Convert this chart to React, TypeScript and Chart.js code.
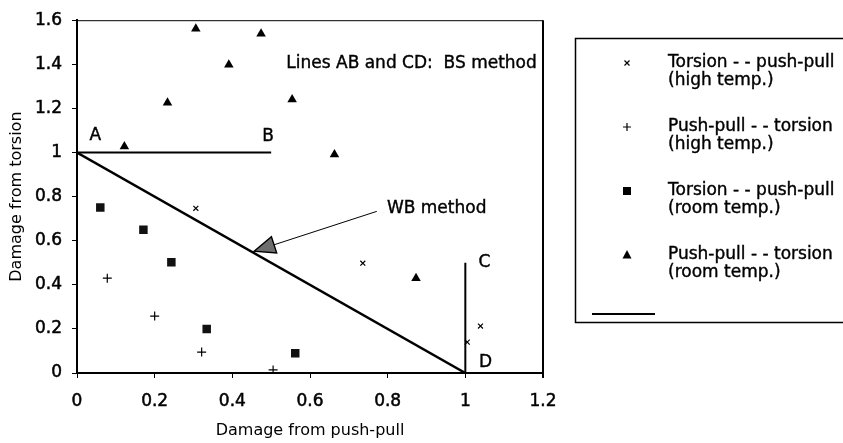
import React, { useEffect, useRef } from 'react';
import { Chart, registerables } from 'chart.js';

Chart.register(...registerables);

const FONT = "'DejaVu Sans', 'Liberation Sans', sans-serif";

// Torsion - - push-pull (high temp.)
const tppHighX = [0.306, 0.736, 1.039, 1.005];
const tppHighY = [0.747, 0.498, 0.213, 0.14];
// Push-pull - - torsion (high temp.)
const pptHighX = [0.078, 0.2, 0.321, 0.505];
const pptHighY = [0.43, 0.258, 0.095, 0.014];
// Torsion - - push-pull (room temp.)
const tppRoomX = [0.06, 0.171, 0.243, 0.334, 0.562];
const tppRoomY = [0.751, 0.65, 0.502, 0.2, 0.09];
// Push-pull - - torsion (room temp.)
const pptRoomX = [0.306, 0.474, 0.391, 0.233, 0.554, 0.122, 0.663, 0.873];
const pptRoomY = [1.561, 1.538, 1.398, 1.226, 1.24, 1.027, 0.991, 0.43];

// BS method lines and WB method line
const lineABX = [0, 0.5];
const lineABY = [1, 1];
const lineCDX = [1, 1];
const lineCDY = [0, 0.5];
const lineWBX = [0, 1];
const lineWBY = [1, 0];

const xTicks = [0, 0.2, 0.4, 0.6, 0.8, 1, 1.2];
const yTicks = [0, 0.2, 0.4, 0.6, 0.8, 1, 1.2, 1.4, 1.6];

const legendLabels = [
  ['Torsion - - push-pull', '(high temp.)'],
  ['Push-pull - - torsion', '(high temp.)'],
  ['Torsion - - push-pull', '(room temp.)'],
  ['Push-pull - - torsion', '(room temp.)'],
];

const textNotes = [
  { text: 'A', x: 0.047, y: 1.077, align: 'center' },
  { text: 'B', x: 0.492, y: 1.072, align: 'center' },
  { text: 'C', x: 1.049, y: 0.502, align: 'center' },
  { text: 'D', x: 1.052, y: 0.045, align: 'center' },
  { text: 'Lines AB and CD:  BS method', x: 0.539, y: 1.403, align: 'left' },
  { text: 'WB method', x: 0.798, y: 0.747, align: 'left' },
];
const arrowTail = { x: 0.772, y: 0.733 };
const arrowTip = { x: 0.456, y: 0.552 };

const zip = (xs: number[], ys: number[]) => xs.map((x, i) => ({ x, y: ys[i] }));

function drawMarker(ctx: CanvasRenderingContext2D, kind: number, x: number, y: number) {
  ctx.save();
  ctx.fillStyle = '#000';
  ctx.strokeStyle = '#000';
  ctx.lineWidth = 1.2;
  if (kind === 0) {
    ctx.beginPath();
    ctx.moveTo(x - 2.5, y - 2.5); ctx.lineTo(x + 2.5, y + 2.5);
    ctx.moveTo(x + 2.5, y - 2.5); ctx.lineTo(x - 2.5, y + 2.5);
    ctx.stroke();
  } else if (kind === 1) {
    ctx.beginPath();
    ctx.moveTo(x - 4, y); ctx.lineTo(x + 4, y);
    ctx.moveTo(x, y - 4); ctx.lineTo(x, y + 4);
    ctx.stroke();
  } else if (kind === 2) {
    ctx.fillRect(x - 4, y - 4, 8, 8);
  } else {
    ctx.beginPath();
    ctx.moveTo(x, y - 5); ctx.lineTo(x + 4.5, y + 3.5); ctx.lineTo(x - 4.5, y + 3.5);
    ctx.closePath();
    ctx.fill();
  }
  ctx.restore();
}

function heavyText(ctx: CanvasRenderingContext2D, t: string, x: number, y: number) {
  ctx.fillText(t, x, y);
  ctx.lineWidth = 0.4;
  ctx.strokeText(t, x, y);
}

const decor = {
  id: 'decor',
  afterDraw(chart: any) {
    const { ctx, chartArea: a, scales } = chart;
    const xs = scales.x;
    const ys = scales.y;
    ctx.save();
    ctx.strokeStyle = '#000';
    // top and right frame
    ctx.lineWidth = 1;
    ctx.beginPath();
    ctx.moveTo(a.left, a.top + 0.5);
    ctx.lineTo(a.right, a.top + 0.5);
    ctx.stroke();
    ctx.lineWidth = 2;
    ctx.beginPath();
    ctx.moveTo(a.right, a.top);
    ctx.lineTo(a.right, a.bottom + 5);
    ctx.stroke();

    // text notes
    ctx.fillStyle = '#000';
    ctx.font = `17px ${FONT}`;
    ctx.textBaseline = 'middle';
    textNotes.forEach((n) => {
      ctx.textAlign = n.align as CanvasTextAlign;
      heavyText(ctx, n.text, xs.getPixelForValue(n.x), ys.getPixelForValue(n.y));
    });

    // arrow
    const tx = xs.getPixelForValue(arrowTail.x);
    const ty = ys.getPixelForValue(arrowTail.y);
    const hx = xs.getPixelForValue(arrowTip.x);
    const hy = ys.getPixelForValue(arrowTip.y);
    const dx = hx - tx;
    const dy = hy - ty;
    const len = Math.hypot(dx, dy);
    const ux = dx / len;
    const uy = dy / len;
    const hl = 21;
    const hw = 8.5;
    const bx = hx - ux * hl;
    const by = hy - uy * hl;
    ctx.lineWidth = 1;
    ctx.beginPath();
    ctx.moveTo(tx, ty);
    ctx.lineTo(bx, by);
    ctx.stroke();
    ctx.beginPath();
    ctx.moveTo(hx, hy);
    ctx.lineTo(bx - uy * hw, by + ux * hw);
    ctx.lineTo(bx + uy * hw, by - ux * hw);
    ctx.closePath();
    ctx.fillStyle = '#6e6e6e';
    ctx.fill();
    ctx.lineWidth = 1.4;
    ctx.stroke();

    // legend box
    ctx.lineWidth = 1.5;
    ctx.strokeRect(575.5, 38.5, 300, 284);
    ctx.fillStyle = '#000';
    ctx.font = `17px ${FONT}`;
    ctx.textAlign = 'left';
    ctx.textBaseline = 'middle';
    legendLabels.forEach((lines, i) => {
      const y = 63 + i * 64;
      drawMarker(ctx, i, 627, y);
      heavyText(ctx, lines[0], 668, y);
      heavyText(ctx, lines[1], 668, y + 18);
    });
    ctx.lineWidth = 2;
    ctx.beginPath();
    ctx.moveTo(592, 314);
    ctx.lineTo(655, 314);
    ctx.stroke();
    ctx.restore();
  },
};

export default function App() {
  const ref = useRef<HTMLCanvasElement>(null);
  useEffect(() => {
    if (!ref.current) return;
    const lineStyle = {
      showLine: true,
      pointRadius: 0,
      borderColor: '#000',
      borderWidth: 2.5,
      backgroundColor: '#000',
    };
    const tickFont = { family: FONT, size: 17 };
    const chart = new Chart(ref.current, {
      type: 'scatter',
      data: {
        datasets: [
          { label: 'WB', data: zip(lineWBX, lineWBY), ...lineStyle },
          { label: 'AB', data: zip(lineABX, lineABY), ...lineStyle, borderWidth: 2 },
          { label: 'CD', data: zip(lineCDX, lineCDY), ...lineStyle, borderWidth: 2 },
          {
            label: 'Torsion - - push-pull (high temp.)',
            data: zip(tppHighX, tppHighY),
            pointStyle: 'crossRot',
            pointRadius: 3.5,
            borderColor: '#000',
            borderWidth: 1.2,
            backgroundColor: '#000',
          },
          {
            label: 'Push-pull - - torsion (high temp.)',
            data: zip(pptHighX, pptHighY),
            pointStyle: 'cross',
            pointRadius: 4.5,
            borderColor: '#000',
            borderWidth: 1.2,
            backgroundColor: '#000',
          },
          {
            label: 'Torsion - - push-pull (room temp.)',
            data: zip(tppRoomX, tppRoomY),
            pointStyle: 'rect',
            pointRadius: 6,
            borderColor: '#000',
            borderWidth: 0,
            backgroundColor: '#111',
          },
          {
            label: 'Push-pull - - torsion (room temp.)',
            data: zip(pptRoomX, pptRoomY),
            pointStyle: 'triangle',
            pointRadius: 5.5,
            borderColor: '#000',
            borderWidth: 0,
            backgroundColor: '#000',
          },
        ],
      },
      options: {
        animation: false,
        responsive: false,
        events: [],
        layout: { padding: { left: 0, right: 300, top: 19, bottom: 0 } },
        plugins: { legend: { display: false }, tooltip: { enabled: false } },
        scales: {
          x: {
            type: 'linear',
            min: 0,
            max: 1.2,
            afterBuildTicks: (s: any) => {
              s.ticks = xTicks.map((v) => ({ value: v }));
            },
            afterFit: (s: any) => {
              s.height = 70;
            },
            ticks: {
              color: '#000',
              font: tickFont,
              padding: 13,
              textStrokeColor: '#000',
              textStrokeWidth: 0.5,
              callback: (v: any) => String(Number(Number(v).toFixed(1))),
            },
            grid: { display: true, drawOnChartArea: false, drawTicks: true, tickLength: 5, color: '#000' },
            border: { display: true, color: '#000', width: 2 },
            title: {
              display: true,
              text: 'Damage from push-pull',
              color: '#000',
              font: { family: FONT, size: 16 },
              padding: { top: 0, bottom: 3 },
            },
          },
          y: {
            type: 'linear',
            min: 0,
            max: 1.6,
            afterBuildTicks: (s: any) => {
              s.ticks = yTicks.map((v) => ({ value: v }));
            },
            afterFit: (s: any) => {
              s.width = 77;
            },
            ticks: {
              color: '#000',
              font: tickFont,
              padding: 10,
              textStrokeColor: '#000',
              textStrokeWidth: 0.5,
              callback: (v: any) => String(Number(Number(v).toFixed(1))),
            },
            grid: { display: true, drawOnChartArea: false, drawTicks: true, tickLength: 5, color: '#000' },
            border: { display: true, color: '#000', width: 2 },
            title: {
              display: true,
              text: 'Damage from torsion',
              color: '#000',
              font: { family: FONT, size: 16 },
              padding: { top: 7, bottom: 0 },
            },
          },
        },
      },
      plugins: [decor],
    } as any);
    return () => chart.destroy();
  }, []);
  return (
    <div style={{ position: 'fixed', left: 0, top: 0, width: 843, height: 443, background: '#fff' }}>
      <canvas ref={ref} width={843} height={443} style={{ display: 'block', width: 843, height: 443 }} />
    </div>
  );
}
